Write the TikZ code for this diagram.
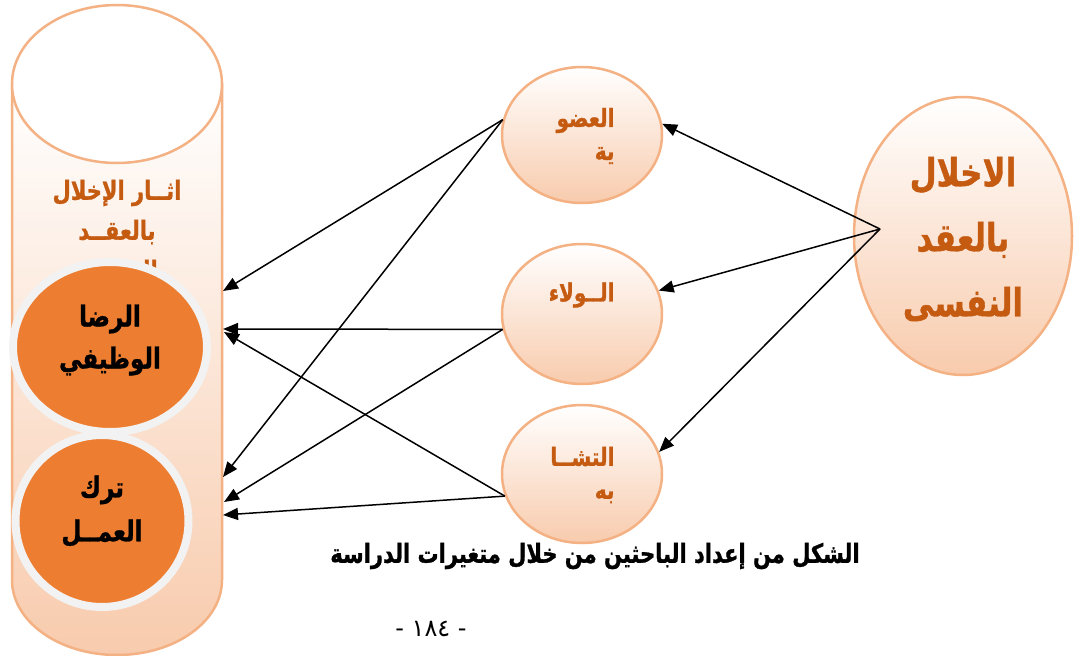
\documentclass[tikz,border=0pt]{standalone}
\usepackage{fontspec}
\usetikzlibrary{shapes.geometric,arrows.meta,calc}
\TeXXeTstate=1
\newfontfamily\arabicfont[Script=Arabic,BoldFeatures={FakeBold=1.2}]{DejaVu Sans}
\newfontfamily\arabicplain[Script=Arabic]{DejaVu Sans}
% one right-to-left line, set a little taller than the font draws it
\newcommand\rtlline[1]{\scalebox{1}[1.25]{\beginR #1\endR}}

\definecolor{peachline}{HTML}{F4B183}
\definecolor{peachfill}{HTML}{F8CBAD}
\definecolor{rust}{HTML}{C55A11}
\definecolor{dorange}{HTML}{ED7D31}
\definecolor{ringgray}{HTML}{F2F2F2}

\tikzset{
  bubble/.style={ellipse, draw=peachline, line width=2.5pt, top color=white,
    bottom color=peachfill, inner sep=0pt},
  core/.style={ellipse, draw=ringgray, line width=8pt, fill=dorange, inner sep=0pt},
  link/.style={line width=1.5pt, -{Triangle[length=15pt,width=12pt]}},
  ortext/.style={text=rust},
  bktext/.style={text=black},
}

\begin{document}
\begin{tikzpicture}[x=1pt,y=-1pt]
\useasboundingbox (0,0) rectangle (1077,656);

% cylinder: body, then top face
\path[draw=peachline, line width=2.5pt, top color=white, bottom color=peachfill]
  (12,84) -- (12,580) arc[start angle=180, end angle=360, x radius=105pt, y radius=75pt]
  -- (222,84) -- cycle;
\node[ellipse, draw=peachline, line width=2.5pt, fill=white, inner sep=0pt,
  minimum width=210pt, minimum height=158pt] (cyltop) at (117,84) {};

\node[ortext, align=center, font=\arabicfont\bfseries\fontsize{21}{40}\selectfont]
  (cyltxt) at (117,233) {\rtlline{اثــار الإخلال}\\ \rtlline{بالعقــد}\\ \rtlline{النفسي}};

% outcome circles
\node[core, minimum width=194pt, minimum height=170pt] (rida) at (110,347) {};
\node[bktext, align=center, font=\arabicfont\bfseries\fontsize{23}{42}\selectfont]
  at (rida.center) [yshift=7pt] {\rtlline{الرضا}\\ \rtlline{الوظيفي}};
\node[core, minimum width=173pt, minimum height=172pt] (tark) at (102,521) {};
\node[bktext, align=center, font=\arabicfont\bfseries\fontsize{23}{44}\selectfont]
  at (tark.center) [yshift=10pt] {\rtlline{ترك}\\ \rtlline{العمــل}};

% dimensions
\node[bubble, minimum width=160pt, minimum height=136pt] (odw) at (582,135) {};
\node[ortext, align=right, anchor=east, font=\arabicfont\bfseries\fontsize{20}{33}\selectfont]
  at (618,136) {\rtlline{العضو}\\ \rtlline{ية}};
\node[bubble, minimum width=160pt, minimum height=140pt] (wala) at (582,314) {};
\node[ortext, anchor=east, font=\arabicfont\bfseries\fontsize{20}{33}\selectfont]
  at (618,295) {\rtlline{الــولاء}};
\node[bubble, minimum width=160pt, minimum height=138pt] (tash) at (582,474) {};
\node[ortext, align=right, anchor=east, font=\arabicfont\bfseries\fontsize{20}{33}\selectfont]
  at (618,475) {\rtlline{التشــا}\\ \rtlline{به}};

% independent variable
\node[bubble, minimum width=218pt, minimum height=278pt] (ikhlal) at (963,236) {};
\node[ortext, align=center, font=\arabicfont\bfseries\fontsize{31}{65}\selectfont]
  at (963,239) {\rtlline{الاخلال}\\ \rtlline{بالعقد}\\ \rtlline{النفسى}};

% arrow ends
\coordinate (hub) at (880,229);
\coordinate (c1) at (223,291);
\coordinate (c2) at (223,329);
\coordinate (c2b) at (224,332);
\coordinate (c3) at (223,477);
\coordinate (c4) at (224,502);
\coordinate (c5) at (223,515);

\draw[link] (hub) -- (odw.8);
\draw[link] (hub) -- (wala.17);
\draw[link] (hub) -- (tash.16);

\draw[link] (odw.169) -- (c1);
\draw[link] (odw.169) -- (c3);
\draw[link] (wala.191) -- (c2);
\draw[link] (wala.191) -- (c4);
\draw[link] (tash.196) -- (c2b);
\draw[link] (tash.196) -- (c5);

% caption and page number
\node[bktext, font=\arabicfont\bfseries\fontsize{21}{24}\selectfont] (caption) at (595,556)
  {\rtlline{الشكل من إعداد الباحثين من خلال متغيرات الدراسة}};
\node[text=black, font=\arabicplain\fontsize{24}{26}\selectfont] (pageno) at (431,629) {- ١٨٤ -};
\end{tikzpicture}
\end{document}
